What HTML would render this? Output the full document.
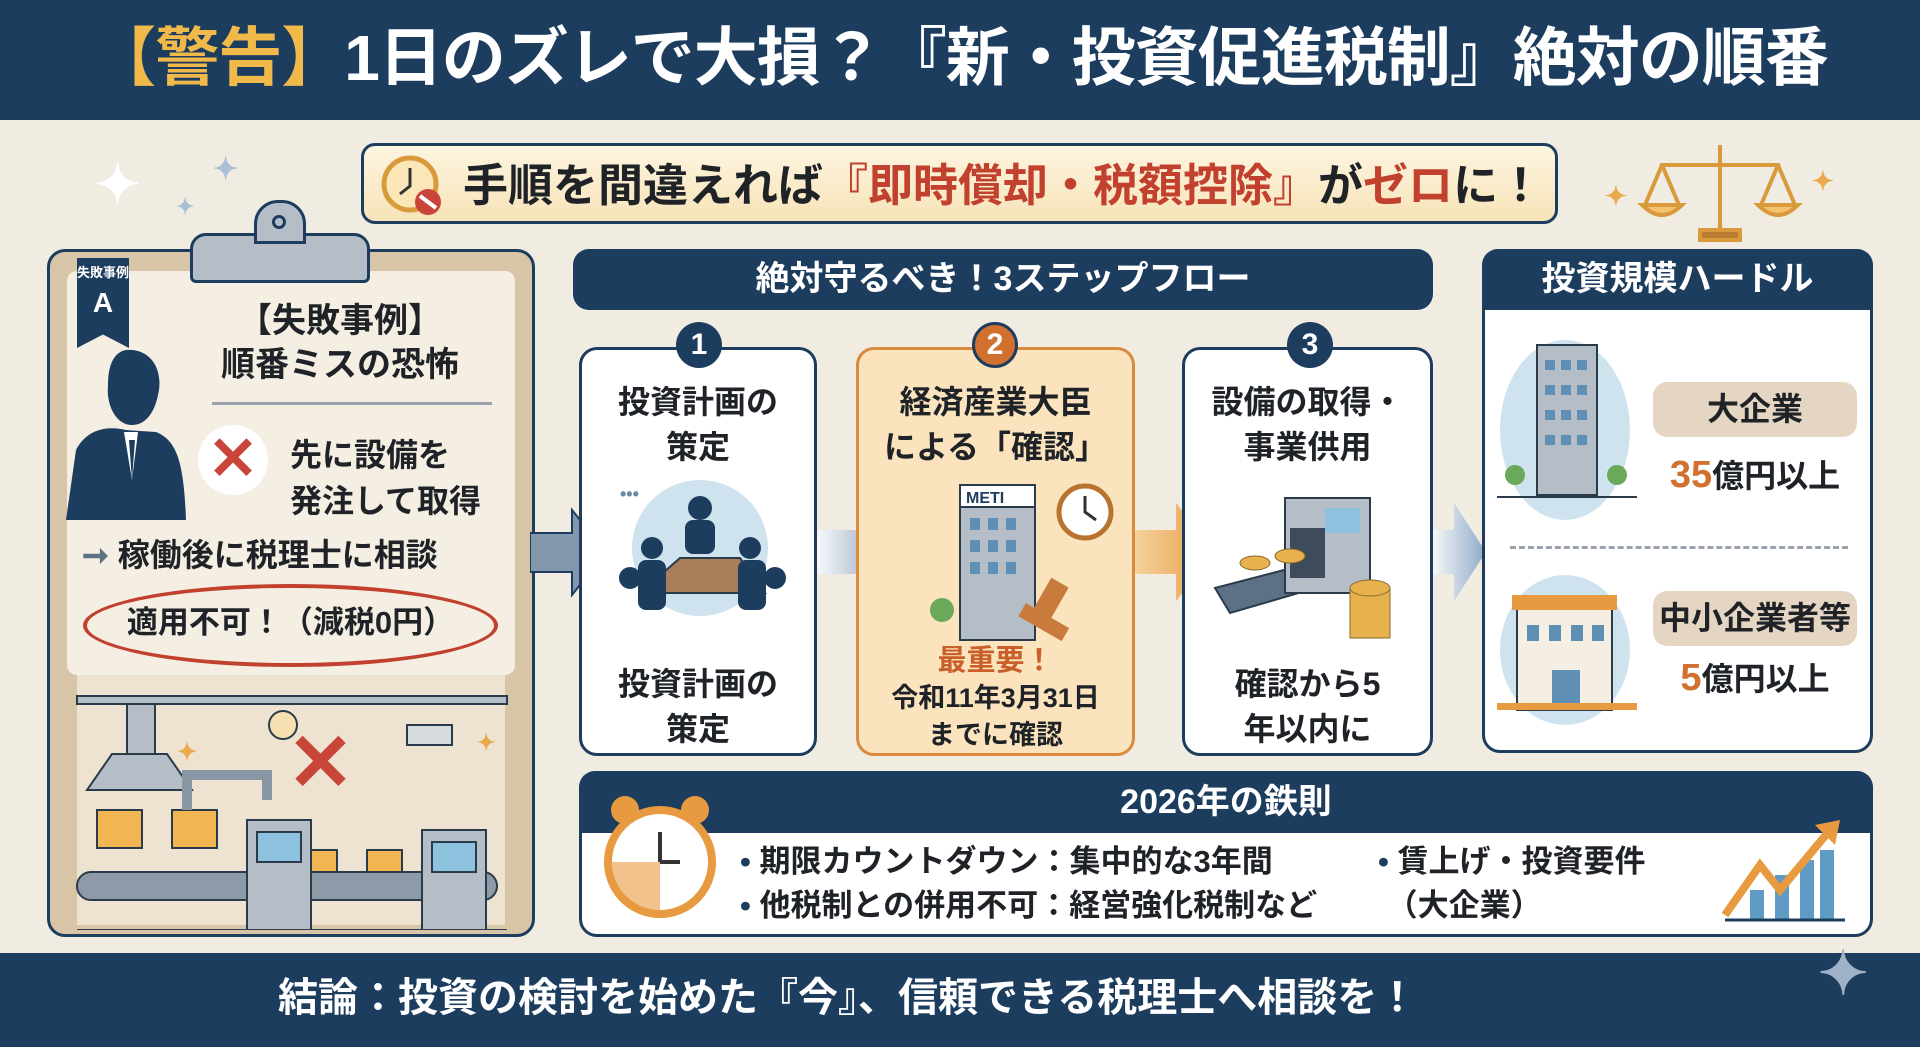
<!DOCTYPE html>
<html><head><meta charset="utf-8">
<style>
*{margin:0;padding:0;box-sizing:border-box}
body{width:1920px;height:1047px;overflow:hidden;background:#f1ece1;font-family:"Liberation Sans","Noto Sans CJK JP",sans-serif;font-weight:700;position:relative;color:#1f2328}
.a{position:absolute}
.c{text-align:center}
.navy{background:#1d3d5f;color:#fff}
.box{background:#fff;border:3px solid #1d3d5f;border-radius:18px}
</style></head><body>
<!-- Title -->
<div class="a navy" style="left:0;top:0;width:1920px;height:120px"></div>
<div class="a c" style="left:0;top:18px;width:1920px;font-size:64px;line-height:80px;color:#fff;white-space:nowrap;letter-spacing:-1px"><span style="color:#f0b94a">【警告】</span>1日のズレで大損？『新・投資促進税制』絶対の順番</div>
<!-- Bottom -->
<div class="a navy" style="left:0;top:953px;width:1920px;height:94px"></div>
<div class="a" style="left:278px;top:970px;font-size:40px;line-height:56px;color:#fff;white-space:nowrap">結論：投資の検討を始めた『今』、信頼できる税理士へ相談を！</div>
<div class="a" style="left:1818px;top:944px;font-size:60px;color:#9fb2c8;line-height:60px">✦</div>
<!-- sparkles -->
<div class="a" style="left:95px;top:158px;font-size:54px;color:#fff;line-height:54px">✦</div>
<div class="a" style="left:213px;top:152px;font-size:30px;color:#a8c0d4">✦</div>
<div class="a" style="left:176px;top:194px;font-size:22px;color:#a8c0d4">✦</div>
<!-- Subtitle -->
<div class="a" style="left:361px;top:143px;width:1197px;height:81px;border:3px solid #1d3d5f;border-radius:14px;background:linear-gradient(#fdf5e0,#f7e3b8)"></div>
<svg class="a" style="left:378px;top:152px" width="70" height="66"><circle cx="32" cy="32" r="26" fill="#fbe6b8" stroke="#d99a3c" stroke-width="5"/><path d="M32 16V34L22 42" stroke="#333" stroke-width="3" fill="none"/><circle cx="50" cy="50" r="13" fill="#c9453a"/><path d="M42 44L58 56" stroke="#fff" stroke-width="4"/></svg>
<div class="a" style="left:463px;top:158px;font-size:45px;line-height:56px;white-space:nowrap">手順を間違えれば<span style="color:#c1402e">『即時償却・税額控除』</span>が<span style="color:#c1402e">ゼロ</span>に！</div>
<!-- scales -->
<svg class="a" style="left:1600px;top:130px" width="240" height="120"><g stroke="#d99a3c" stroke-width="4" fill="none"><line x1="120" y1="15" x2="120" y2="100"/><line x1="60" y1="35" x2="180" y2="35"/><path d="M62 35L45 75M62 35L79 75M178 35L161 75M178 35L195 75"/><path d="M42 75Q62 95 82 75Z" fill="#f3c26b"/><path d="M158 75Q178 95 198 75Z" fill="#f3c26b"/><rect x="100" y="100" width="40" height="10" fill="#b87d33"/></g><text x="5" y="75" font-size="26" fill="#e9a94c">✦</text><text x="212" y="60" font-size="26" fill="#e9a94c">✦</text></svg>
<!-- Left clipboard -->
<div class="a" style="left:47px;top:249px;width:488px;height:688px;background:#d8c4a6;border:3px solid #1d3d5f;border-radius:18px"></div>
<div class="a" style="left:67px;top:271px;width:448px;height:404px;background:#f5efe3;border-radius:10px"></div>
<div class="a" style="left:77px;top:675px;width:428px;height:250px;background:#eee3d0"></div>
<div class="a" style="left:190px;top:233px;width:180px;height:50px;background:#b5bec7;border:3px solid #1d3d5f;border-radius:16px 16px 6px 6px"></div>
<div class="a" style="left:254px;top:200px;width:52px;height:44px;background:#b5bec7;border:3px solid #1d3d5f;border-radius:24px 24px 0 0"></div>
<div class="a" style="left:272px;top:215px;width:14px;height:14px;border:3px solid #1d3d5f;border-radius:50%"></div>
<div class="a navy c" style="left:77px;top:258px;width:52px;height:90px;clip-path:polygon(0 0,100% 0,100% 100%,50% 85%,0 100%);font-size:13px;line-height:30px;white-space:nowrap">失敗事例<br><span style="font-size:28px">A</span></div>
<svg class="a" style="left:66px;top:340px" width="130" height="180"><path d="M60 10C85 8 98 30 92 55C88 75 78 85 66 85C50 85 40 65 42 45C42 25 48 12 60 10Z" fill="#1d3d5f"/><path d="M0 180L10 110C20 90 40 85 60 90L90 92C110 100 118 120 120 180Z" fill="#1d3d5f"/><path d="M58 92L66 140L72 92Z" fill="#fff"/><path d="M63 100L66 140L69 100Z" fill="#1d3d5f"/></svg>
<div class="a c" style="left:190px;top:299px;width:300px;font-size:34px;line-height:44px">【失敗事例】<br>順番ミスの恐怖</div>
<div class="a" style="left:212px;top:402px;width:280px;height:3px;background:#9aa3ab"></div>
<div class="a" style="left:198px;top:425px;width:70px;height:70px;border-radius:50%;background:#fff"></div>
<div class="a c" style="left:198px;top:420px;width:70px;font-size:60px;line-height:78px;color:#c9453a">✕</div>
<div class="a" style="left:290px;top:432px;font-size:32px;line-height:46px">先に設備を<br>発注して取得</div>
<div class="a" style="left:82px;top:532px;font-size:32px;line-height:46px;white-space:nowrap"><span style="color:#5f7285">➞</span> 稼働後に税理士に相談</div>
<div class="a" style="left:83px;top:584px;width:415px;height:83px;border:4px solid #c1402e;border-radius:50%"></div>
<div class="a c" style="left:83px;top:600px;width:415px;font-size:31px;line-height:46px">適用不可！（減税0円）</div>
<!-- factory -->
<svg class="a" style="left:67px;top:680px" width="448" height="250"><g stroke="#2a3b4c" stroke-width="2"><rect x="10" y="16" width="430" height="8" fill="#b5bec7"/><rect x="60" y="24" width="28" height="50" fill="#b5bec7"/><path d="M45 74H100L125 110H20Z" fill="#b5bec7"/><circle cx="216" cy="45" r="14" fill="#f6dfb0"/><rect x="340" y="45" width="45" height="20" fill="#d6dbe0"/><rect x="30" y="130" width="45" height="38" fill="#f1b552"/><rect x="105" y="130" width="45" height="38" fill="#f1b552"/><path d="M120 130V95H200V120" stroke="#8997a5" stroke-width="10" fill="none"/><rect x="235" y="170" width="35" height="22" fill="#f1b552"/><rect x="300" y="170" width="35" height="22" fill="#f1b552"/><rect x="10" y="192" width="420" height="28" rx="14" fill="#8d9aa8"/><rect x="180" y="140" width="64" height="110" fill="#b5bec7"/><rect x="190" y="152" width="44" height="30" fill="#8cc2dd"/><rect x="355" y="150" width="64" height="100" fill="#b5bec7"/><rect x="365" y="162" width="44" height="30" fill="#8cc2dd"/><line x1="10" y1="250" x2="440" y2="250"/></g><text x="220" y="110" font-size="80" fill="#c9453a" font-weight="700">✕</text><text x="110" y="80" font-size="24" fill="#e9a94c">✦</text><text x="410" y="70" font-size="22" fill="#e9a94c">✦</text></svg>
<!-- arrows -->
<svg class="a" style="left:530px;top:505px" width="80" height="95"><path d="M0 28H42V5L76 47L42 90V67H0Z" fill="#8398ad" stroke="#1d3d5f" stroke-width="2"/></svg>
<svg class="a" style="left:812px;top:500px" width="90" height="105"><defs><linearGradient id="g1"><stop offset="0" stop-color="#fff"/><stop offset="1" stop-color="#7f97b0"/></linearGradient></defs><path d="M0 30H46V3L86 52L46 101V74H0Z" fill="url(#g1)"/></svg>
<svg class="a" style="left:1130px;top:500px" width="90" height="105"><defs><linearGradient id="g2"><stop offset="0" stop-color="#f6d6a4"/><stop offset="1" stop-color="#e79a3f"/></linearGradient></defs><path d="M0 30H46V3L86 52L46 101V74H0Z" fill="url(#g2)"/></svg>
<svg class="a" style="left:1428px;top:500px" width="62" height="105"><defs><linearGradient id="g3"><stop offset="0" stop-color="#fff"/><stop offset="1" stop-color="#8eaac4"/></linearGradient></defs><path d="M0 30H26V3L58 52L26 101V74H0Z" fill="url(#g3)"/></svg>
<!-- step header -->
<div class="a navy c" style="left:573px;top:249px;width:860px;height:61px;border-radius:16px;font-size:34px;line-height:61px">絶対守るべき！3ステップフロー</div>
<!-- step boxes -->
<div class="a box" style="left:579px;top:347px;width:238px;height:409px"></div>
<div class="a box" style="left:856px;top:347px;width:279px;height:409px;background:#fbe4bd;border-color:#d98a3c"></div>
<div class="a box" style="left:1182px;top:347px;width:251px;height:409px"></div>
<div class="a navy c" style="left:676px;top:322px;width:46px;height:46px;border-radius:50%;font-size:30px;line-height:46px">1</div>
<div class="a c" style="left:972px;top:322px;width:46px;height:46px;border-radius:50%;background:#d2702f;color:#fff;font-size:30px;line-height:40px;border:3px solid #1d3d5f">2</div>
<div class="a navy c" style="left:1287px;top:322px;width:46px;height:46px;border-radius:50%;font-size:30px;line-height:46px">3</div>
<div class="a c" style="left:579px;top:380px;width:238px;font-size:32px;line-height:45px">投資計画の<br>策定</div>
<div class="a c" style="left:856px;top:380px;width:279px;font-size:32px;line-height:45px">経済産業大臣<br>による「確認」</div>
<div class="a c" style="left:1182px;top:380px;width:251px;font-size:32px;line-height:45px">設備の取得・<br>事業供用</div>
<!-- step1 illus -->
<svg class="a" style="left:600px;top:478px" width="200" height="175"><circle cx="100" cy="70" r="68" fill="#cfe3ef"/><path d="M40 115L80 80H140L165 115Z" fill="#a87f5a" stroke="#2a3b4c" stroke-width="2"/><g fill="#1d3d5f"><circle cx="100" cy="30" r="12"/><rect x="85" y="42" width="30" height="34" rx="8"/><circle cx="52" cy="70" r="11"/><rect x="38" y="82" width="28" height="50" rx="8"/><circle cx="150" cy="70" r="11"/><rect x="138" y="82" width="28" height="50" rx="8"/><circle cx="30" cy="100" r="11"/><circle cx="175" cy="100" r="11"/></g><text x="20" y="22" font-size="18" fill="#6b8aa6">•••</text></svg>
<div class="a c" style="left:579px;top:662px;width:238px;font-size:32px;line-height:45px">投資計画の<br>策定</div>
<!-- step2 illus -->
<svg class="a" style="left:900px;top:470px" width="220" height="180"><rect x="60" y="15" width="75" height="155" fill="#b5bec7" stroke="#2a3b4c" stroke-width="2"/><rect x="60" y="15" width="75" height="22" fill="#fff" stroke="#2a3b4c" stroke-width="2"/><text x="66" y="33" font-size="16" fill="#1d3d5f">METI</text><g fill="#5f8fb5"><rect x="70" y="48" width="10" height="12"/><rect x="88" y="48" width="10" height="12"/><rect x="106" y="48" width="10" height="12"/><rect x="70" y="70" width="10" height="12"/><rect x="88" y="70" width="10" height="12"/><rect x="106" y="70" width="10" height="12"/><rect x="70" y="92" width="10" height="12"/><rect x="88" y="92" width="10" height="12"/><rect x="106" y="92" width="10" height="12"/></g><circle cx="185" cy="42" r="26" fill="#fff" stroke="#b8742f" stroke-width="5"/><path d="M185 26V42L196 50" stroke="#333" stroke-width="3" fill="none"/><rect x="140" y="110" width="20" height="40" fill="#c87b3c" transform="rotate(30 150 130)"/><rect x="120" y="145" width="50" height="15" fill="#c87b3c" transform="rotate(30 145 150)"/><circle cx="42" cy="140" r="12" fill="#6aa85a"/></svg>
<div class="a c" style="left:856px;top:643px;width:279px;font-size:29px;line-height:36px;color:#c9602a">最重要！</div>
<div class="a c" style="left:856px;top:680px;width:279px;font-size:27px;line-height:37px">令和11年3月31日<br>までに確認</div>
<!-- step3 illus -->
<svg class="a" style="left:1200px;top:478px" width="220" height="175"><path d="M15 110L130 80L150 100L30 135Z" fill="#5d7086" stroke="#2a3b4c" stroke-width="2"/><rect x="85" y="20" width="85" height="95" fill="#b5bec7" stroke="#2a3b4c" stroke-width="2"/><rect x="125" y="30" width="35" height="25" fill="#8cc2dd"/><rect x="90" y="50" width="35" height="50" fill="#3d4b5a"/><g fill="#e7b24e" stroke="#8a6a2a"><ellipse cx="55" cy="85" rx="15" ry="7"/><ellipse cx="90" cy="78" rx="15" ry="7"/><rect x="150" y="110" width="40" height="50" fill="#e7b24e"/><ellipse cx="170" cy="110" rx="20" ry="8"/></g></svg>
<div class="a c" style="left:1182px;top:662px;width:251px;font-size:32px;line-height:45px">確認から5<br>年以内に</div>
<!-- right panel -->
<div class="a box" style="left:1482px;top:249px;width:391px;height:504px"></div>
<div class="a navy c" style="left:1482px;top:249px;width:391px;height:61px;border-radius:16px 16px 0 0;font-size:34px;line-height:61px">投資規模ハードル</div>
<svg class="a" style="left:1497px;top:325px" width="140" height="200"><ellipse cx="68" cy="105" rx="65" ry="90" fill="#cfe3ef"/><rect x="40" y="20" width="60" height="150" fill="#b5bec7" stroke="#2a3b4c" stroke-width="2"/><g fill="#5f8fb5"><rect x="48" y="35" width="10" height="10"/><rect x="64" y="35" width="10" height="10"/><rect x="80" y="35" width="10" height="10"/><rect x="48" y="60" width="10" height="10"/><rect x="64" y="60" width="10" height="10"/><rect x="80" y="60" width="10" height="10"/><rect x="48" y="85" width="10" height="10"/><rect x="64" y="85" width="10" height="10"/><rect x="80" y="85" width="10" height="10"/><rect x="48" y="110" width="10" height="10"/><rect x="64" y="110" width="10" height="10"/><rect x="80" y="110" width="10" height="10"/></g><circle cx="18" cy="150" r="10" fill="#6aa85a"/><circle cx="120" cy="150" r="10" fill="#6aa85a"/><line x1="0" y1="172" x2="140" y2="172" stroke="#2a3b4c" stroke-width="2"/></svg>
<div class="a c" style="left:1653px;top:382px;width:204px;height:55px;background:#e4d6c2;border-radius:14px;font-size:32px;line-height:55px">大企業</div>
<div class="a c" style="left:1653px;top:450px;width:204px;font-size:32px;line-height:50px"><span style="color:#d2702f;font-size:38px">35</span>億円以上</div>
<div class="a" style="left:1510px;top:546px;width:338px;border-top:3px dashed #9aa3ab"></div>
<svg class="a" style="left:1497px;top:570px" width="140" height="160"><ellipse cx="68" cy="80" rx="65" ry="75" fill="#cfe3ef"/><rect x="20" y="30" width="95" height="110" fill="#f5efe3" stroke="#2a3b4c" stroke-width="2"/><rect x="15" y="25" width="105" height="15" fill="#e79a3f"/><g fill="#5f8fb5"><rect x="30" y="55" width="12" height="16"/><rect x="52" y="55" width="12" height="16"/><rect x="74" y="55" width="12" height="16"/><rect x="95" y="55" width="12" height="16"/><rect x="55" y="100" width="28" height="40"/></g><rect x="0" y="133" width="140" height="7" fill="#e79a3f"/></svg>
<div class="a c" style="left:1653px;top:591px;width:204px;height:55px;background:#e4d6c2;border-radius:14px;font-size:32px;line-height:55px">中小企業者等</div>
<div class="a c" style="left:1653px;top:653px;width:204px;font-size:32px;line-height:50px"><span style="color:#d2702f;font-size:38px">5</span>億円以上</div>
<!-- 2026 panel -->
<div class="a box" style="left:579px;top:771px;width:1294px;height:166px"></div>
<div class="a navy c" style="left:579px;top:771px;width:1294px;height:62px;border-radius:16px 16px 0 0;font-size:34px;line-height:62px">2026年の鉄則</div>
<svg class="a" style="left:600px;top:790px" width="120" height="135"><circle cx="25" cy="20" r="14" fill="#e79a3f"/><circle cx="95" cy="20" r="14" fill="#e79a3f"/><circle cx="60" cy="72" r="52" fill="#fff" stroke="#e79a3f" stroke-width="8"/><path d="M60 72L60 42M60 72L80 72" stroke="#333" stroke-width="4"/><path d="M60 72L60 120A48 48 0 0 1 12 72Z" fill="#e79a3f" opacity=".6"/></svg>
<div class="a" style="left:740px;top:840px;font-size:31px;line-height:44px;white-space:nowrap"><span style="color:#1d3d5f">•</span> 期限カウントダウン：集中的な3年間<br><span style="color:#1d3d5f">•</span> 他税制との併用不可：経営強化税制など</div>
<div class="a" style="left:1378px;top:840px;font-size:31px;line-height:44px;white-space:nowrap"><span style="color:#1d3d5f">•</span> 賃上げ・投資要件<br>&nbsp;（大企業）</div>
<svg class="a" style="left:1720px;top:820px" width="130" height="105"><g fill="#5f9bc4"><rect x="30" y="70" width="14" height="30"/><rect x="55" y="55" width="14" height="45"/><rect x="80" y="40" width="14" height="60"/><rect x="100" y="30" width="14" height="70"/></g><path d="M5 95L40 45L60 70L110 10" stroke="#e79a3f" stroke-width="8" fill="none"/><path d="M95 5L120 0L115 25Z" fill="#e79a3f"/><line x1="5" y1="100" x2="125" y2="100" stroke="#1d3d5f" stroke-width="3"/></svg>
</body></html>
